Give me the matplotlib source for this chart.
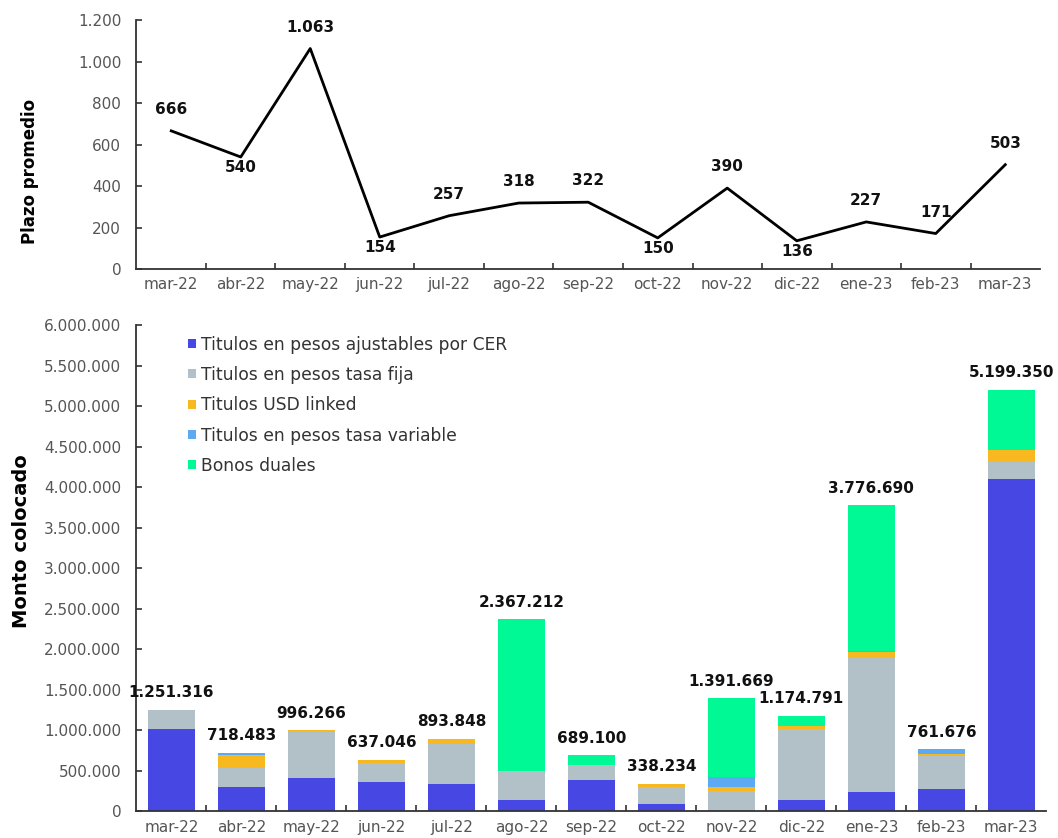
import matplotlib
matplotlib.use("Agg")
import matplotlib.pyplot as plt
import numpy as np
from matplotlib.ticker import FuncFormatter, FixedLocator
from matplotlib.patches import Patch

plt.rcParams['font.family'] = ['DejaVu Sans']

months = ["mar-22", "abr-22", "may-22", "jun-22", "jul-22", "ago-22", "sep-22",
          "oct-22", "nov-22", "dic-22", "ene-23", "feb-23", "mar-23"]

# Average term (days)
plazo = [666, 540, 1063, 154, 257, 318, 322, 150, 390, 136, 227, 171, 503]
plazo_below = [False, True, False, True, False, False, False, True, False, True, False, False, False]

# Amount placed by instrument type
cer      = [1020000, 300000, 407000, 366000, 330000, 140000, 379000, 83000, 0, 132000, 231000, 268000, 4095000]
fija     = [225000, 227000, 575000, 225000, 500000, 355000, 197000, 220000, 247000, 884000, 1662000, 411000, 217000]
usd      = [0, 165000, 14266, 46046, 63848, 0, 0, 35234, 49000, 33000, 70000, 33000, 145000]
variable = [6316, 26483, 0, 0, 0, 0, 0, 0, 124000, 0, 15000, 49676, 0]
duales   = [0, 0, 0, 0, 0, 1872212, 113100, 0, 971669, 125791, 1798690, 0, 742350]

series_names = ["Titulos en pesos ajustables por CER", "Titulos en pesos tasa fija",
                "Titulos USD linked", "Titulos en pesos tasa variable", "Bonos duales"]
series_colors = ["#4747E3", "#B1C1C7", "#F8B920", "#5BAAF2", "#00F995"]


def miles(v, _pos=None):
    return f"{int(round(v)):,}".replace(",", ".")


fig = plt.figure(figsize=(10.58, 8.38), dpi=100)
ax1 = fig.add_axes([0.129, 0.679, 0.854, 0.297])
ax2 = fig.add_axes([0.129, 0.032, 0.860, 0.580])

x = np.arange(len(months))
axis_color = "#333333"
tick_color = "#555555"


def style_axis(ax):
    for s in ("top", "right"):
        ax.spines[s].set_visible(False)
    for s in ("left", "bottom"):
        ax.spines[s].set_color(axis_color)
        ax.spines[s].set_linewidth(1.3)
    ax.set_xlim(-0.5, len(months) - 0.5)
    ax.set_xticks(x)
    ax.set_xticklabels(months)
    ax.xaxis.set_minor_locator(FixedLocator(np.arange(0.5, len(months) - 0.5, 1.0)))
    ax.tick_params(axis="x", which="major", length=0, pad=6, labelsize=11, labelcolor=tick_color)
    ax.tick_params(axis="x", which="minor", length=4, direction="in", color=axis_color, width=1.2)
    ax.tick_params(axis="y", length=4, direction="in", color=axis_color, width=1.2,
                   labelsize=11, labelcolor=tick_color, pad=11)
    ax.yaxis.set_major_formatter(FuncFormatter(miles))


# Top panel: average term line
style_axis(ax1)
ax1.plot(x, plazo, color="black", lw=2)
ax1.set_ylim(0, 1200)
ax1.set_yticks(np.arange(0, 1201, 200))
for xi, v, below in zip(x, plazo, plazo_below):
    ax1.annotate(miles(v), (xi, v), xytext=(0, -2 if below else 10), textcoords="offset points",
                 ha="center", va="top" if below else "bottom",
                 fontsize=11, fontweight="bold", color="#111111")
ax1.set_ylabel("Plazo promedio", fontsize=12, fontweight="bold")
ax1.yaxis.set_label_coords(-0.108, 0.39)

# Bottom panel: stacked bars
style_axis(ax2)
bottom = np.zeros(len(months))
for vals, name, col in zip([cer, fija, usd, variable, duales], series_names, series_colors):
    vals = np.array(vals, dtype=float)
    ax2.bar(x, vals, bottom=bottom, width=0.67, color=col, label=name)
    bottom += vals
ax2.set_ylim(0, 6000000)
ax2.set_yticks(np.arange(0, 6000001, 500000))
for xi, tot in zip(x, bottom):
    ax2.annotate(miles(tot), (xi, tot), xytext=(0, 7), textcoords="offset points",
                 ha="center", va="bottom", fontsize=11, fontweight="bold", color="#111111")
ax2.set_ylabel("Monto colocado", fontsize=14, fontweight="bold")
ax2.yaxis.set_label_coords(-0.116, 0.556)

handles = [Patch(facecolor=c, label=n) for n, c in zip(series_names, series_colors)]
ax2.legend(handles=handles, loc="upper left", bbox_to_anchor=(0.04, 1.01), frameon=False,
           fontsize=12.3, handlelength=0.45, handleheight=0.45, handletextpad=0.3,
           labelspacing=0.72, labelcolor="#333333")

fig.savefig("out.png", dpi=100, facecolor="white")
